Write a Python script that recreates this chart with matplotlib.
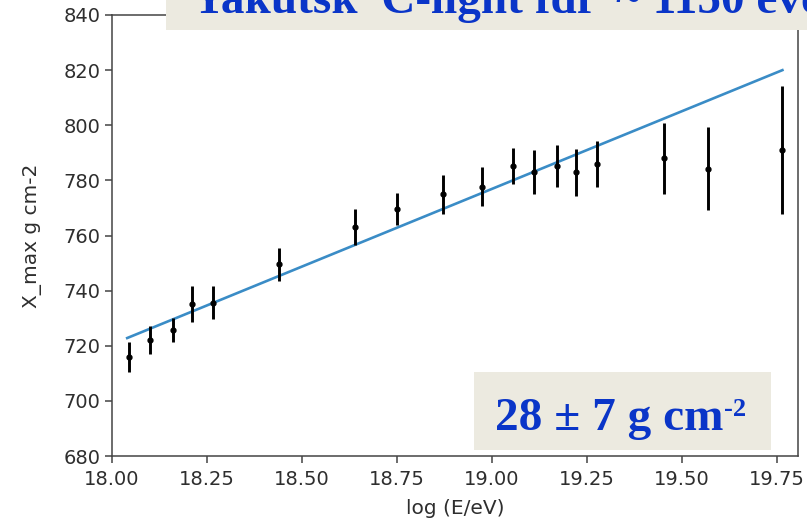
import matplotlib
matplotlib.use("Agg")
import matplotlib.pyplot as plt
from matplotlib.patches import Rectangle

# data
log_e = [18.045, 18.10, 18.16, 18.21, 18.265, 18.44, 18.64, 18.75, 18.87,
         18.973, 19.056, 19.111, 19.17, 19.22, 19.275, 19.453, 19.569, 19.764]
xmax = [715.9, 722.0, 725.7, 735.0, 735.6, 749.6, 763.1, 769.6, 774.9,
        777.7, 785.2, 782.9, 785.2, 782.9, 785.9, 788.0, 784.3, 791.0]
xmax_err = [5.5, 5.0, 4.5, 6.5, 6.0, 6.0, 6.4, 5.7, 7.0,
            7.0, 6.5, 8.0, 7.5, 8.4, 8.4, 12.8, 15.1, 23.2]
fit_x = [18.04, 19.764]
fit_y = [722.8, 820.0]
xticks = [18.00, 18.25, 18.50, 18.75, 19.00, 19.25, 19.50, 19.75]
yticks = [680, 700, 720, 740, 760, 780, 800, 820, 840]
title_text = "Yakutsk  C-light fdf  ~ 1150 events"
note_main = "28 \u00b1 7 g cm"
note_sup = "-2"

W, H = 807, 532
fig = plt.figure(figsize=(W / 100, H / 100), dpi=100)
ax = fig.add_axes([112 / W, 1 - 456 / H, (798 - 112) / W, (456 - 15) / H])

ax.plot(fit_x, fit_y, color="#3a8cc6", lw=1.9, zorder=2)
ax.errorbar(log_e, xmax, yerr=xmax_err, fmt="o", color="black", ms=3.5,
            elinewidth=2.1, capsize=0, zorder=3)

ax.set_xlim(18.0, 19.805)
ax.set_ylim(680, 840)
ax.set_xticks(xticks)
ax.set_xticklabels([f"{t:.2f}" for t in xticks])
ax.set_yticks(yticks)
ax.tick_params(axis="both", labelsize=14, length=5, width=1.1,
               color="#444444", labelcolor="#2e2e2e")
ax.tick_params(axis="x", pad=5)
for s in ax.spines.values():
    s.set_linewidth(1.1)
    s.set_color("#444444")
ax.set_xlabel("log (E/eV)", fontsize=14.5, color="#2e2e2e", labelpad=7)
ax.set_ylabel("X_max g cm-2", fontsize=14.5, color="#2e2e2e", labelpad=15)

beige = "#ECEAE0"
blue = "#0a35c8"
fig.add_artist(Rectangle((166 / W, 1 - 29.5 / H), (W - 166) / W, 29.5 / H,
                         transform=fig.transFigure, facecolor=beige,
                         edgecolor="none", zorder=5))
fig.text(192 / W, 1 - 13 / H, title_text, fontsize=34, fontweight="bold",
         family="Liberation Serif", color=blue, va="baseline", ha="left",
         zorder=6)

fig.add_artist(Rectangle((474 / W, 1 - 450 / H), (771 - 474) / W, (450 - 372) / H,
                         transform=fig.transFigure, facecolor=beige,
                         edgecolor="none", zorder=5))
main = fig.text(495 / W, 1 - 430 / H, note_main, fontsize=34, fontweight="bold",
                family="Liberation Serif", color=blue, va="baseline", ha="left",
                zorder=6)
fig.canvas.draw()
bb = main.get_window_extent()
fig.text((bb.x1 + 1) / W, 1 - 416 / H, note_sup, fontsize=19, fontweight="bold",
         family="Liberation Serif", color=blue, va="baseline", ha="left",
         zorder=6)

fig.savefig("out.png", dpi=100)
